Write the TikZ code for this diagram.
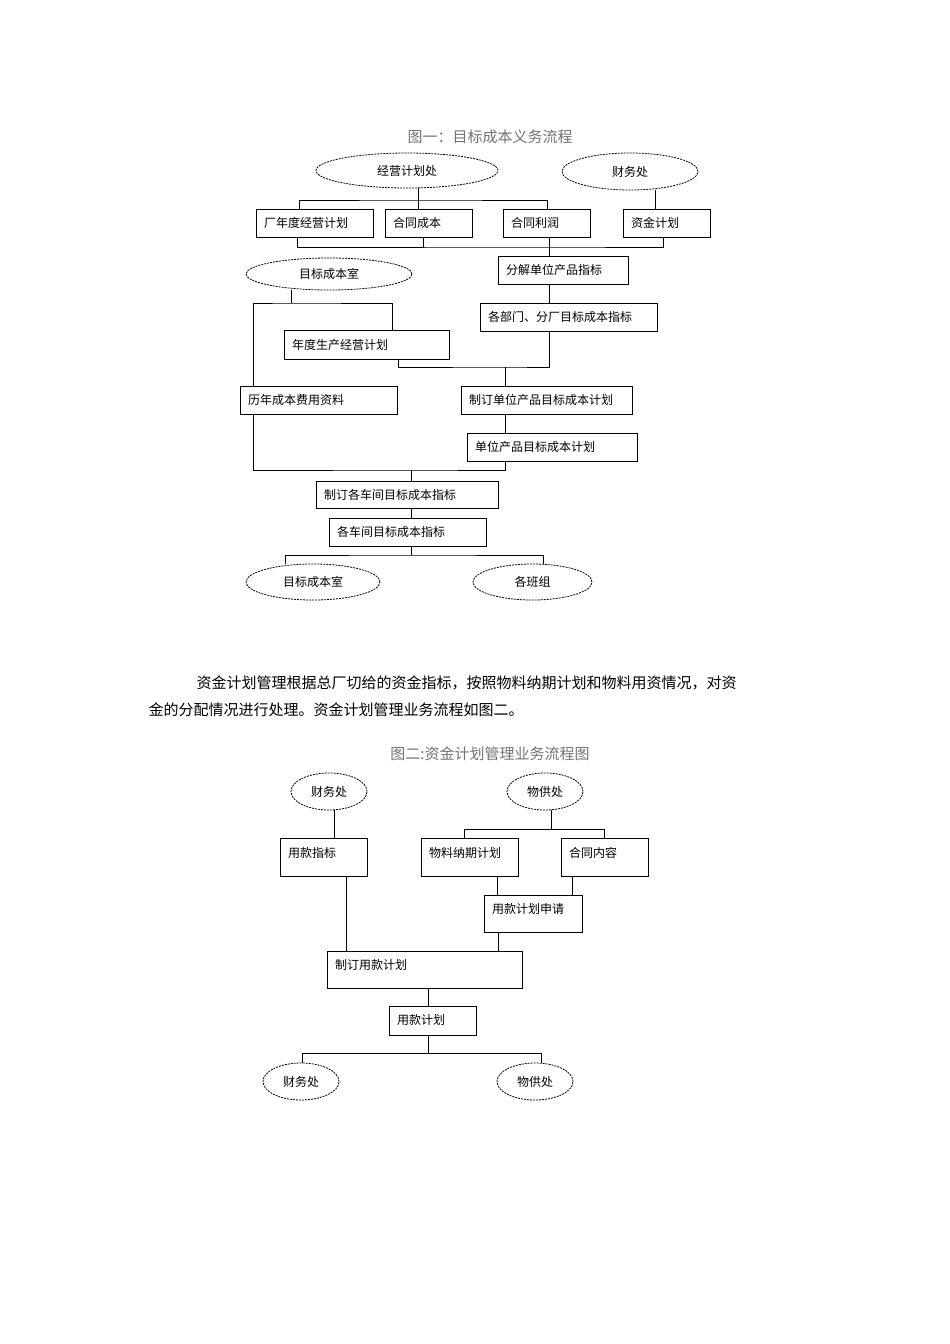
\documentclass[tikz,border=0pt]{standalone}
\usepackage{fontspec}
\setmainfont{Noto Sans CJK SC}
\usetikzlibrary{shapes.geometric}
\newcommand{\bx}[7][]{%
  \pgfmathsetmacro{\bw}{#5-#3}\pgfmathsetmacro{\bh}{#6-#4}%
  \pgfmathsetmacro{\bcx}{(#3+#5)/2}\pgfmathsetmacro{\bcy}{(#4+#6)/2}%
  \pgfmathsetmacro{\btw}{\bw-16}%
  \node[box,minimum width=\bw pt,minimum height=\bh pt,text width=\btw pt,#1] (#2) at (\bcx,\bcy) {#7};}
\newcommand{\el}[6]{%
  \pgfmathsetmacro{\bw}{#4-#2}\pgfmathsetmacro{\bh}{#5-#3}%
  \pgfmathsetmacro{\bcx}{(#2+#4)/2}\pgfmathsetmacro{\bcy}{(#3+#5)/2}%
  \node[oval,minimum width=\bw pt,minimum height=\bh pt] (#1) at (\bcx,\bcy) {#6};}
\begin{document}
\begin{tikzpicture}[x=1pt,y=-1pt,
  box/.style={draw,line width=0.9pt,rectangle,inner xsep=8pt,inner ysep=0pt,align=left,font=\fontsize{12}{14}\selectfont},
  oval/.style={draw,dashed,dash pattern=on 2pt off 1pt,line width=0.8pt,ellipse,inner sep=0pt,font=\fontsize{12}{14}\selectfont},
  ln/.style={line width=0.9pt},
  ttl/.style={text=black!55,font=\fontsize{15}{18}\selectfont},
  top2/.style={text height=10pt,text depth=10pt}]
\useasboundingbox[fill=white] (0,0) rectangle (950,1344);
\node[ttl] (t1) at (490,137) {图一：目标成本义务流程};
% diagram 1
\el{jy}{316}{153}{498}{188}{经营计划处}
\el{cw}{562}{153}{698}{190}{财务处}
\bx{b1}{256}{209}{373}{237}{厂年度经营计划}
\bx{b2}{385}{209}{472}{237}{合同成本}
\bx{b3}{503}{209}{590}{237}{合同利润}
\bx{b4}{623}{209}{710}{237}{资金计划}
\el{mb}{246}{258}{412}{290}{目标成本室}
\bx{fj}{498}{256}{628}{284}{分解单位产品指标}
\bx{gb}{480}{303}{657}{331}{各部门、分厂目标成本指标}
\bx{nd}{284}{330}{449}{359}{年度生产经营计划}
\bx{ln1}{240}{386}{397}{414}{历年成本费用资料}
\bx{zd}{461}{386}{632}{414}{制订单位产品目标成本计划}
\bx{dw}{467}{433}{637}{461}{单位产品目标成本计划}
\bx{zc}{316}{481}{498}{508}{制订各车间目标成本指标}
\bx{gc}{329}{518}{486}{546}{各车间目标成本指标}
\el{mb2}{246}{564}{380}{600}{目标成本室}
\el{bz}{473}{564}{592}{600}{各班组}
\coordinate (u1) at (418,200);
\draw[ln] (jy.south -| u1) -- (u1);
\draw[ln] (b1.north -| 299,0) |- (u1) -| (b3.north -| 547,0);
\draw[ln] (u1) -- (b2.north -| u1);
\draw[ln] (cw.south -| 655,0) -- (b4.north -| 655,0);
\coordinate (u2) at (549,247);
\draw[ln] (b1.south -| 297,0) |- (u2) -| (b4.south -| 663,0);
\draw[ln] (b2.south -| 423,0) -- (423,247);
\draw[ln] (b3.south -| u2) -- (fj.north -| u2);
\draw[ln] (fj.south -| u2) -- (gb.north -| u2);
\coordinate (u3) at (291,303);
\draw[ln] (mb.south -| u3) -- (u3);
\draw[ln] (ln1.north -| 253,0) |- (u3) -| (nd.north -| 392,0);
\coordinate (u4) at (505,367);
\draw[ln] (nd.south -| 398,0) |- (u4) -| (gb.south -| u2);
\draw[ln] (u4) -- (zd.north -| u4);
\draw[ln] (zd.south -| u4) -- (dw.north -| u4);
\coordinate (u5) at (411,470);
\draw[ln] (ln1.south -| 253,0) |- (u5) -| (dw.south -| u4);
\draw[ln] (u5) -- (zc.north -| u5);
\draw[ln] (zc.south -| u5) -- (gc.north -| u5);
\coordinate (u6) at (411,555);
\draw[ln] (gc.south -| u6) -- (u6);
\draw[ln] (mb2.north -| 285,0) |- (u6) -| (bz.north -| 543,0);
% paragraph
\node[anchor=west,font=\fontsize{15}{18}\selectfont] (p1) at (193,683) {资金计划管理根据总厂切给的资金指标，按照物料纳期计划和物料用资情况，对资};
\node[anchor=west,font=\fontsize{15}{18}\selectfont] (p2) at (145,710) {金的分配情况进行处理。资金计划管理业务流程如图二。};
\node[ttl] (t2) at (490,754) {图二:资金计划管理业务流程图};
% diagram 2
\el{cw2}{291}{773}{367}{810}{财务处}
\el{wg}{507}{773}{583}{810}{物供处}
\bx[top2]{yk}{280}{838}{367}{876}{用款指标}
\bx[top2]{wl}{421}{838}{518}{876}{物料纳期计划}
\bx[top2]{ht}{561}{838}{648}{876}{合同内容}
\bx[top2]{sq}{484}{895}{582}{932}{用款计划申请}
\bx[top2]{zk}{327}{951}{522}{988}{制订用款计划}
\bx[text height=10pt,text depth=3pt]{jh}{389}{1006}{476}{1035}{用款计划}
\el{cw3}{263}{1063}{339}{1100}{财务处}
\el{wg3}{497}{1063}{573}{1100}{物供处}
\draw[ln] (cw2.south -| 334,0) -- (yk.north -| 334,0);
\coordinate (v1) at (551,829);
\draw[ln] (wg.south -| v1) -- (v1);
\draw[ln] (wl.north -| 464,0) |- (v1) -| (ht.north -| 604,0);
\draw[ln] (wl.south -| 497,0) -- (sq.north -| 497,0);
\draw[ln] (ht.south -| 572,0) -- (sq.north -| 572,0);
\draw[ln] (yk.south -| 346,0) -- (zk.north -| 346,0);
\draw[ln] (sq.south -| 498,0) -- (zk.north -| 498,0);
\draw[ln] (zk.south -| 428,0) -- (jh.north -| 428,0);
\coordinate (v2) at (428,1053);
\draw[ln] (jh.south -| v2) -- (v2);
\draw[ln] (cw3.north -| 302,0) |- (v2) -| (wg3.north -| 541,0);
\end{tikzpicture}
\end{document}
